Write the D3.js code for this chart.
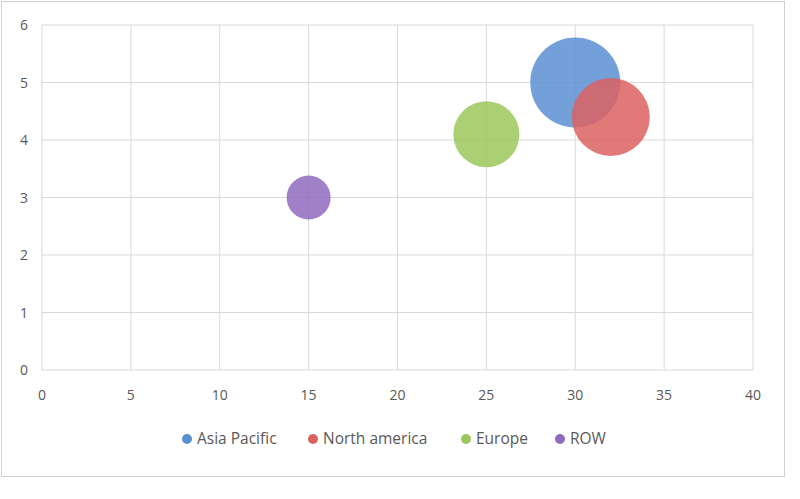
<!DOCTYPE html><html><head><meta charset="utf-8"><script src="https://cdn.jsdelivr.net/npm/d3@7"></script>
<style>body{margin:0;background:#fff}</style></head><body><svg id="c" width="800" height="499"></svg>
<script>
const series=["Asia Pacific","North america","Europe","ROW"];
const xVals=[30,32,25,15];
const yVals=[5,4.4,4.1,3];
const sizes=[45,39,33,22];
const colors=["#5b8fd2","#dc6262","#9bc85a","#8f6bbd"];
const xTicks=[0,5,10,15,20,25,30,35,40];
const yTicks=[0,1,2,3,4,5,6];
const svg=d3.select("#c");
svg.append("rect").attr("x",1.5).attr("y",1.5).attr("width",783).attr("height",475).attr("fill","#fff").attr("stroke","#d0d0d0");
const x=d3.scaleLinear().domain([0,40]).range([42,753]);
const y=d3.scaleLinear().domain([0,6]).range([370,25]);
const r=d3.scaleLinear().domain([0,45]).range([0,45]);
const g=svg.append("g");
g.selectAll(".gx").data(xTicks).join("line").attr("x1",d=>x(d)).attr("x2",d=>x(d)).attr("y1",y(6)).attr("y2",y(0)).attr("stroke","#d9d9d9");
g.selectAll(".gy").data(yTicks).join("line").attr("y1",d=>y(d)).attr("y2",d=>y(d)).attr("x1",x(0)).attr("x2",x(40)).attr("stroke","#d9d9d9");
const f="'Open Sans',sans-serif";
g.selectAll(".tx").data(xTicks).join("text").attr("x",d=>x(d)).attr("y",y(0)+30).attr("text-anchor","middle").attr("font-family",f).attr("font-size",14).attr("fill","#595959").text(d=>d);
g.selectAll(".ty").data(yTicks).join("text").attr("x",x(0)-14).attr("y",d=>y(d)+5).attr("text-anchor","end").attr("font-family",f).attr("font-size",14).attr("fill","#595959").text(d=>d);
series.forEach((s,i)=>{
 svg.append("circle").attr("cx",x(xVals[i])).attr("cy",y(yVals[i])).attr("r",r(sizes[i])).attr("fill",colors[i]).attr("fill-opacity",0.85);
});
const lx=[187,313,466,560];
series.forEach((s,i)=>{
 svg.append("circle").attr("cx",lx[i]).attr("cy",439).attr("r",5).attr("fill",colors[i]);
 svg.append("text").attr("x",lx[i]+10).attr("y",444).attr("font-family",f).attr("font-size",15.5).attr("fill","#595959").text(s);
});
</script></body></html>
